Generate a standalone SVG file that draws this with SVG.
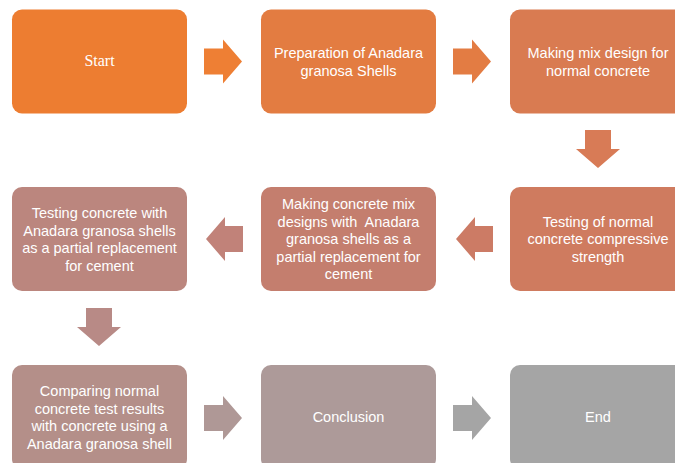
<svg xmlns="http://www.w3.org/2000/svg" width="675" height="463" viewBox="0 0 675 463">
<style>
.t{font-family:"Liberation Sans",Arial,sans-serif;font-size:14.5px;fill:#ffffff;text-anchor:middle}
.s{font-family:"Liberation Serif","Times New Roman",serif;font-size:16px;fill:#ffffff;text-anchor:middle}
.pre{white-space:pre}
</style>
<rect width="675" height="463" fill="#ffffff"/>
<g id="connectors">
<polygon points="204,48.5 223,48.5 223,39.5 242,61.5 223,83.5 223,74.5 204,74.5" fill="#EE7F34"/>
<polygon points="453,48.5 472,48.5 472,39.5 491,61.5 472,83.5 472,74.5 453,74.5" fill="#E37C43"/>
<polygon points="585,130 611,130 611,149 620,149 598,168 576,149 585,149" fill="#D87B56"/>
<polygon points="493,226 475,226 475,217 456,239 475,261 475,252 493,252" fill="#CC7B65"/>
<polygon points="243,226 225,226 225,217 206,239 225,261 225,252 243,252" fill="#C18279"/>
<polygon points="86,308 112,308 112,327 121,327 99,346 77,327 86,327" fill="#B88A86"/>
<polygon points="204,405 223,405 223,396 242,418 223,440 223,431 204,431" fill="#AF9896"/>
<polygon points="453,405 472,405 472,396 491,418 472,440 472,431 453,431" fill="#A5A5A5"/>
</g>
<g id="n1"><rect x="12" y="9.5" width="175" height="104" rx="10" fill="#ED7D31"/><text class="s" x="99.5" y="66">Start</text></g>
<g id="n2"><rect x="261" y="9.5" width="175" height="104" rx="10" fill="#E37C41"/><text class="t" x="348.5" y="58">Preparation of Anadara</text><text class="t" x="348.5" y="75.5">granosa Shells</text></g>
<g id="n3"><rect x="510" y="9.5" width="175" height="104" rx="10" fill="#D97B51"/><text class="t" x="598" y="58">Making mix design for</text><text class="t" x="598" y="75.5">normal concrete</text></g>
<g id="n4"><rect x="510" y="187" width="175" height="104" rx="10" fill="#CF7B5F"/><text class="t" x="598" y="226.5">Testing of normal</text><text class="t" x="598" y="244">concrete compressive</text><text class="t" x="598" y="261.5">strength</text></g>
<g id="n5"><rect x="261" y="187" width="175" height="104" rx="10" fill="#C47E6E"/><text class="t" x="348.5" y="209">Making concrete mix</text><text class="t pre" x="348.5" y="226.5">designs with  Anadara</text><text class="t" x="348.5" y="244">granosa shells as a</text><text class="t" x="348.5" y="261.5">partial replacement for</text><text class="t" x="348.5" y="279">cement</text></g>
<g id="n6"><rect x="12" y="187" width="175" height="104" rx="10" fill="#BB867E"/><text class="t" x="99.5" y="218">Testing concrete with</text><text class="t" x="99.5" y="235.5">Anadara granosa shells</text><text class="t" x="99.5" y="253">as a partial replacement</text><text class="t" x="99.5" y="270.5">for cement</text></g>
<g id="n7"><rect x="12" y="365" width="175" height="104" rx="10" fill="#B48F89"/><text class="t" x="99.5" y="396">Comparing normal</text><text class="t" x="99.5" y="413.5">concrete test results</text><text class="t" x="99.5" y="431">with concrete using a</text><text class="t" x="99.5" y="448.5">Anadara granosa shell</text></g>
<g id="n8"><rect x="261" y="365" width="175" height="104" rx="10" fill="#AD9A99"/><text class="t" x="348.5" y="422">Conclusion</text></g>
<g id="n9"><rect x="510" y="365" width="175" height="104" rx="10" fill="#A5A5A5"/><text class="t" x="598" y="422">End</text></g>
</svg>
